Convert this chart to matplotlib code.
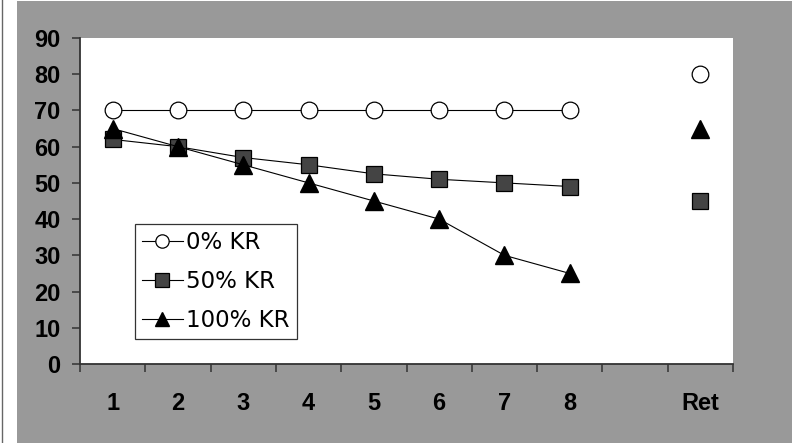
import numpy as np
import matplotlib.pyplot as plt
from matplotlib.patches import Rectangle
from matplotlib.lines import Line2D

# categories along the x axis (blank slot before Ret)
categories = ['1', '2', '3', '4', '5', '6', '7', '8', '', 'Ret']
kr0 = [70, 70, 70, 70, 70, 70, 70, 70, np.nan, 80]
kr50 = [62, 60, 57, 55, 52.5, 51, 50, 49, np.nan, 45]
kr100 = [65, 60, 55, 50, 45, 40, 30, 25, np.nan, 65]
yticks = [0, 10, 20, 30, 40, 50, 60, 70, 80, 90]

grey = '#999999'

fig = plt.figure(figsize=(7.92, 4.43), dpi=100)
fig.patch.set_facecolor('white')
# grey chart area and thin frame line on the left
fig.patches.append(Rectangle((17/792, 0), 1 - 17/792, 1 - 1/443, transform=fig.transFigure,
                             facecolor=grey, edgecolor='none', zorder=-10))
fig.lines.append(Line2D([1.5/792, 1.5/792], [0, 1], transform=fig.transFigure, color='#666666',
                        lw=1, zorder=-10))

ax = fig.add_axes([80/792, 79/443, 653/792, 326/443])
ax.set_facecolor('white')

x = np.arange(len(categories))
ax.plot(x, kr0, color='black', lw=0.8, marker='o', ms=12, mfc='white', mec='black', mew=0.9,
        label='0% KR', zorder=3)
ax.plot(x, kr50, color='black', lw=0.8, marker='s', ms=12, mfc='#444444', mec='black', mew=0.9,
        label='50% KR', zorder=3)
ax.plot(x, kr100, color='black', lw=0.8, marker='^', ms=13, mfc='black', mec='black',
        label='100% KR', zorder=4)

ax.set_xlim(-0.5, len(categories) - 0.5)
ax.set_ylim(0, 90)
ax.set_yticks(yticks)
ax.set_yticklabels([str(v) for v in yticks], fontsize=17, fontweight='bold', family='Liberation Sans')
ax.set_xticks(x)
ax.set_xticklabels(categories, fontsize=17, fontweight='bold', family='Liberation Sans')
ax.set_xticks(np.arange(len(categories) + 1) - 0.5, minor=True)
ax.tick_params(axis='x', which='major', length=0, pad=20)
ax.tick_params(axis='x', which='minor', length=6, width=1.1, color='#333333', direction='out')
ax.tick_params(axis='y', length=6, width=1.1, color='#333333', direction='out', pad=8)

for s in ['top', 'right']:
    ax.spines[s].set_visible(False)
for s in ['left', 'bottom']:
    ax.spines[s].set_color('#333333')
    ax.spines[s].set_linewidth(1.3)

leg = ax.legend(loc='upper left', bbox_to_anchor=(0.084, 0.429), borderaxespad=0,
                prop={'family': 'DejaVu Sans Condensed', 'size': 16.5},
                frameon=True, fancybox=False, edgecolor='black', handlelength=1.8,
                handletextpad=0.15, labelspacing=0.7, borderpad=0.3, markerscale=0.8)
leg.get_frame().set_linewidth(0.9)

fig.savefig('out.png', dpi=100)
